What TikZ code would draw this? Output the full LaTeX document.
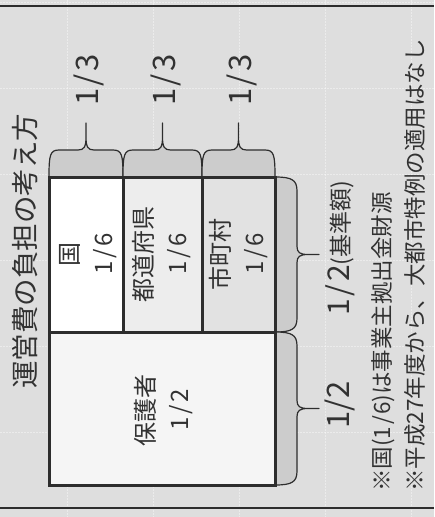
\documentclass[tikz,border=0pt]{standalone}
\usepackage{fontspec}
\setmainfont{Noto Sans CJK JP}
\definecolor{bg}{RGB}{222,222,222}
\definecolor{bracefill}{RGB}{204,204,204}
\definecolor{prefill}{RGB}{237,237,237}
\definecolor{cityfill}{RGB}{226,226,226}
\definecolor{parfill}{RGB}{245,245,245}
\definecolor{ink}{RGB}{45,45,45}
\definecolor{txt}{RGB}{50,50,50}
\newcommand{\fr}[2]{#1\kern2.5pt/\kern2.5pt#2}
\begin{document}
\begin{tikzpicture}[x=1pt,y=-1pt,
  lbl/.style={rotate=90, text=txt, inner sep=0pt},
  boxtext/.style={lbl, align=center, font=\fontsize{24}{34}\selectfont},
  frac/.style={lbl, font=\fontsize{31}{31}\selectfont},
  note/.style={lbl, anchor=west, font=\fontsize{22.5}{22.5}\selectfont},
  bracepath/.style={draw=ink, line width=1.2pt, fill=bracefill, line join=round},
  gridline/.style={white, opacity=0.4, line width=0.7pt, dash pattern=on 1.5pt off 1.5pt},
  frameline/.style={draw=ink, line width=1.5pt},
  border/.style={draw=ink, line width=3pt}]
\useasboundingbox (0,0) rectangle (434,517);
\fill[bg] (0,0) rectangle (434,517);
% faint grid
\foreach \gx in {67,153,239,325,411} \draw[gridline] (\gx,0) -- (\gx,517);
\foreach \gy in {2,88,174,260,346,432} \draw[gridline] (0,\gy) -- (434,\gy);
% frame lines
\draw[frameline] (0,6) -- (434,6);
\draw[frameline] (0,508) -- (434,508);
% top braces
\foreach \a/\b in {49/123,123/202,202/275} {
  \pgfmathsetmacro\c{(\a+\b)/2}
  \path[bracepath] (\a,177) .. controls (\a,155) and (\a+1,150) .. (\a+10,150)
    -- (\c-8,150) .. controls (\c-2,150) and (\c,147) .. (\c,137) -- (\c,123)
    -- (\c,137) .. controls (\c,147) and (\c+2,150) .. (\c+8,150)
    -- (\b-10,150) .. controls (\b-1,150) and (\b,155) .. (\b,177) -- cycle;
}
% right braces
\foreach \a/\b in {177/332,332/485} {
  \pgfmathsetmacro\c{(\a+\b)/2}
  \path[bracepath] (275,\a) .. controls (292,\a) and (297,\a+3) .. (297,\a+14)
    -- (297,\c-8) .. controls (297,\c-2) and (300,\c) .. (308,\c) -- (319,\c)
    -- (308,\c) .. controls (300,\c) and (297,\c+2) .. (297,\c+8)
    -- (297,\b-14) .. controls (297,\b-3) and (292,\b) .. (275,\b) -- cycle;
}
% boxes
\fill[white] (49,177) rectangle (123,332);
\fill[prefill] (123,177) rectangle (202,332);
\fill[cityfill] (202,177) rectangle (275,332);
\fill[parfill] (49,332) rectangle (275,485);
\draw[border] (49,177) rectangle (275,485);
\draw[border] (49,332) -- (275,332);
\draw[border] (123,177) -- (123,332);
\draw[border] (202,177) -- (202,332);
% texts
\node[lbl, anchor=west, font=\fontsize{27.5}{27.5}\selectfont] (title) at (25,389) {運営費の負担の考え方};
\node[frac] (t1) at (89,80) {\fr{1}{3}};
\node[frac] (t2) at (166,80) {\fr{1}{3}};
\node[frac] (t3) at (242,80) {\fr{1}{3}};
\node[boxtext] (kuni) at (88,254) {国\\\fr{1}{6}};
\node[boxtext] (pref) at (162,254) {都道府県\\\fr{1}{6}};
\node[boxtext] (city) at (239,254) {市町村\\\fr{1}{6}};
\node[boxtext] (parent) at (164,410) {保護者\\\fr{1}{2}};
\node[lbl] (base) at (340,248) {{\fontsize{30}{30}\selectfont \fr{1}{2}}{\fontsize{23}{23}\selectfont (基準額)}};
\node[frac] (half) at (340,405) {1/2};
\node[note] (n1) at (383,492) {※国(1\kern2pt/\kern1pt6)は事業主拠出金財源};
\node[note] (n2) at (415,492) {※平成27年度から、大都市特例の適用はなし};
\end{tikzpicture}
\end{document}
